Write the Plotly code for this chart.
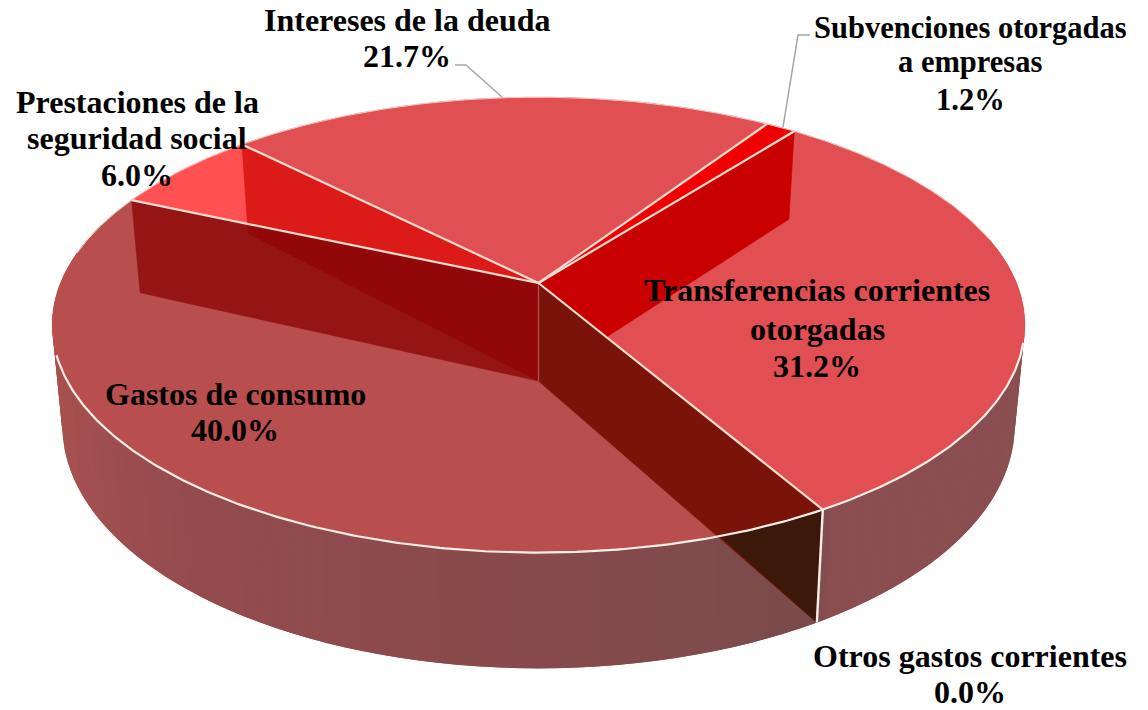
import numpy as np
import plotly.graph_objects as go

# ---------- data ----------
categories = ["Transferencias corrientes otorgadas", "Subvenciones otorgadas a empresas",
              "Intereses de la deuda", "Prestaciones de la seguridad social",
              "Gastos de consumo", "Otros gastos corrientes"]
values = [31.2, 1.2, 21.7, 6.0, 40.0, 0.0]
top_colors = ["#e14f52", "#f00000", "#e04f52", "#ff5052", "#b94e4e", "#b94e4e"]
label_lines = [["Transferencias corrientes", "otorgadas"],
               ["Subvenciones otorgadas", "a empresas"],
               ["Intereses de la deuda"],
               ["Prestaciones de la", "seguridad social"],
               ["Gastos de consumo"],
               ["Otros gastos corrientes"]]
label_x = [817, 970, 407, 137, 235, 970]
label_y = [[290, 329, 366], [28, 62, 100], [20, 56], [102, 138, 175], [394, 430], [656, 692]]
label_size = [32, 30.5, 32, 32, 32, 32]

# ---------- projection ----------
START, K = 60.0, 0.184
CX = 538.5
TOP = dict(cy=283.0, a=478.0, b=220.0)
BOT = dict(cy=381.0, a=468.0, b=234.5)

def proj(theta, r=1.0, lay=TOP):
    t = np.radians(theta)
    s, c = np.sin(t) * r, np.cos(t) * r
    d = 1 - K * s
    return CX + lay["a"] * c / d, lay["cy"] + lay["b"] * s / d

total = sum(values)
bounds = [START]
for v in values:
    bounds.append(bounds[-1] - v / total * 360)

def arc(t0, t1, lay=TOP, n=None):
    n = n or max(2, int(abs(t1 - t0) * 2) + 2)
    return proj(np.linspace(t0, t1, n), 1.0, lay)

def isect(p1, p2, p3, p4):
    a = np.array([[p2[0]-p1[0], p3[0]-p4[0]], [p2[1]-p1[1], p3[1]-p4[1]]])
    u = np.linalg.solve(a, [p3[0]-p1[0], p3[1]-p1[1]])[0]
    return p1[0] + u*(p2[0]-p1[0]), p1[1] + u*(p2[1]-p1[1])

fig = go.Figure()

def poly(x, y, color, edge=0.6):
    x, y = list(x), list(y)
    fig.add_trace(go.Scatter(x=x + x[:1], y=y + y[:1], mode="lines", fill="toself",
                             fillcolor=color, line=dict(color=color, width=edge),
                             hoverinfo="skip", showlegend=False))

def stroke(x, y, color="#f8e4dc", width=2.0):
    fig.add_trace(go.Scatter(x=list(x), y=list(y), mode="lines",
                             line=dict(color=color, width=width),
                             hoverinfo="skip", showlegend=False))

# ---------- rim, strip by strip, each strip overlapping the previous one ----------
rim_t = [-15, 59.5, 60.5, 90, 130, 155, 180, 200]
rim_c = [(138, 80, 82), (138, 78, 80), (122, 76, 76), (135, 74, 76), (150, 76, 78),
         (166, 80, 80), (172, 82, 82), (172, 82, 82)]
grid = np.arange(-15, 60, 2.0)
for t0 in grid:
    t1 = min(t0 + 4.0, 60.0)
    xa, ya = arc(t0, t1, TOP, 5)
    xb, yb = arc(t1, t0, BOT, 5)
    col = [int(np.interp(t0 + 1, rim_t, [c[i] for c in rim_c])) for i in range(3)]
    poly(np.r_[xa, xb], np.r_[ya, yb], f"rgb({col[0]},{col[1]},{col[2]})", 0)
for t0 in np.arange(198, 60, -2.0):
    t1 = max(t0 - 4.0, 60.0)
    xa, ya = arc(t0, t1, TOP, 5)
    xb, yb = arc(t1, t0, BOT, 5)
    col = [int(np.interp(t0 - 1, rim_t, [c[i] for c in rim_c])) for i in range(3)]
    poly(np.r_[xa, xb], np.r_[ya, yb], f"rgb({col[0]},{col[1]},{col[2]})", 0)

# ---------- top faces ----------
for i, col in enumerate(top_colors):
    if values[i] == 0:
        continue
    x, y = arc(bounds[i], bounds[i + 1])
    poly(np.r_[CX, x], np.r_[TOP["cy"], y], col)

cT = (CX, TOP["cy"])
cB = (CX, BOT["cy"])
def P(t, lay):
    x, y = proj(t, 1.0, lay)
    return float(x), float(y)

# ---------- inner walls ----------
b_tr = bounds[0]
q = [P(bounds[1], TOP), cT, cB, P(bounds[1], BOT)]
poly(*zip(*q), "#c80000")
i_top = P(bounds[3], TOP); i_bot = P(bounds[3], BOT)
poly(*zip(i_top, cT, cB, i_bot), "#dc1a18")
g_top = P(bounds[4], TOP); g_bot = P(bounds[4], BOT)
poly(*zip(g_top, cT, cB, g_bot), "#951515")
m = isect(i_top, i_bot, g_top, cT)
poly(*zip(m, cT, cB, i_bot), "#920808")
f_top = P(b_tr, TOP); f_bot = P(b_tr, BOT)
poly(*zip(cT, f_top, f_bot, cB), "#7a1408")
ts = np.linspace(b_tr, b_tr + 40, 161)
ax, ay = proj(ts, 1.0, TOP)
side = (f_bot[0]-cB[0])*(ay-cB[1]) - (f_bot[1]-cB[1])*(ax-cB[0])
keep = side < 0
poly(np.r_[ax[keep], f_bot[0]], np.r_[ay[keep], f_bot[1]], "#3c1808")

# ---------- edges ----------
stroke([CX, CX], [TOP["cy"], BOT["cy"]], "#b85050", 1.2)
x, y = arc(15, 162)
stroke(x, y, "#fbeee8", 2.2)
x, y = arc(-172, -12)
stroke(x, y, "#f6c8c0", 1.0)
for i in range(5):
    x, y = P(bounds[i], TOP)
    stroke([CX, x], [TOP["cy"], y], "#f8dcd2", 2.2)
stroke([f_top[0], f_bot[0]], [f_top[1], f_bot[1]], "#fbeee8", 2.4)

# ---------- leader lines ----------
stroke([455, 466, 502], [65, 65, 97], "#a6a6a6", 1.5)
stroke([810, 798, 783], [35, 35, 127], "#a6a6a6", 1.5)

# ---------- labels ----------
annotations = []
for name, lines, lx, lys, v, fs in zip(categories, label_lines, label_x, label_y, values, label_size):
    for line, ly in zip(lines + [f"{v:.1f}%"], lys):
        annotations.append(dict(x=lx, y=ly, text=f"<b>{line}</b>", showarrow=False,
                                xanchor="center", yanchor="middle", xref="x", yref="y",
                                font=dict(family="Liberation Serif", size=fs, color="#000000")))

fig.update_layout(width=1148, height=710, margin=dict(l=0, r=0, t=0, b=0),
                  paper_bgcolor="#ffffff", plot_bgcolor="#ffffff", showlegend=False,
                  annotations=annotations,
                  xaxis=dict(range=[0, 1148], visible=False, fixedrange=True),
                  yaxis=dict(range=[710, 0], visible=False, fixedrange=True))
fig.write_html("out.html", post_script="document.body.style.margin='0';document.documentElement.style.overflow='hidden';",
               config=dict(displayModeBar=False))
